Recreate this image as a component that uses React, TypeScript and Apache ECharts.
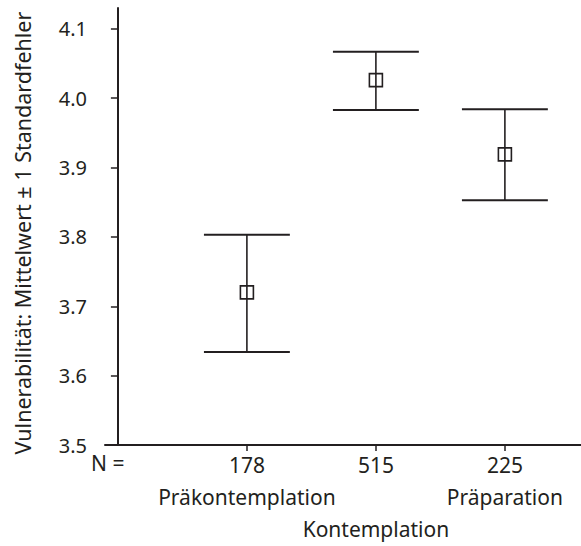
import React, { useEffect, useRef } from "react";
import * as echarts from "echarts";

const categories = ["Präkontemplation", "Kontemplation", "Präparation"];
const counts = [178, 515, 225];
const positions = [1, 2, 3];
const means = [3.72, 4.026, 3.919];
const lower = [3.634, 3.983, 3.853];
const upper = [3.803, 4.067, 3.984];
const yTicks = [3.5, 3.6, 3.7, 3.8, 3.9, 4.0, 4.1];
const nLabel = "N =";
const yTitle = "Vulnerabilität: Mittelwert ± 1 Standardfehler";

const INK = "#231f20";
const FONT = "Noto Sans";

export default function App() {
  const ref = useRef<HTMLDivElement>(null);
  useEffect(() => {
    if (!ref.current) return;
    const chart = echarts.init(ref.current, null, { renderer: "svg" });
    const data = positions.map((p, i) => [p, means[i], lower[i], upper[i]]);
    const baseX = {
      type: "value",
      position: "bottom",
      offset: 0,
      min: -0.1,
      max: 3.59,
      splitLine: { show: false },
    };
    const labelStyle = {
      color: INK,
      fontFamily: FONT,
      fontSize: 21,
      showMinLabel: true,
      showMaxLabel: true,
    };
    const idx = (v: number) => positions.indexOf(Math.round(v));
    chart.setOption({
      animation: false,
      backgroundColor: "#ffffff",
      grid: { left: 105, right: 0, top: 8, bottom: 101, containLabel: false, outerBoundsMode: "none" },
      xAxis: [
        {
          ...baseX,
          axisLine: { show: true, lineStyle: { color: INK, width: 2 } },
          axisTick: { show: true, length: 6, lineStyle: { color: INK, width: 1.5 }, customValues: positions },
          axisLabel: {
            ...labelStyle,
            customValues: positions,
            margin: 9,
            formatter: (v: number) => (idx(v) < 0 ? "" : String(counts[idx(v)])),
          },
        },
        {
          ...baseX,
          axisLine: { show: false },
          axisTick: { show: false },
          axisLabel: {
            ...labelStyle,
            customValues: [positions[0], positions[2]],
            margin: 41,
            formatter: (v: number) => (idx(v) < 0 ? "" : categories[idx(v)]),
          },
        },
        {
          ...baseX,
          axisLine: { show: false },
          axisTick: { show: false },
          axisLabel: {
            ...labelStyle,
            customValues: [positions[1]],
            margin: 73,
            formatter: (v: number) => (idx(v) < 0 ? "" : categories[idx(v)]),
          },
        },
      ],
      yAxis: {
        type: "value",
        min: 3.5,
        max: 4.13,
        interval: 0.1,
        splitLine: { show: false },
        axisLine: { show: true, lineStyle: { color: INK, width: 2 } },
        axisTick: { show: true, length: 7, lineStyle: { color: INK, width: 1.5 }, customValues: yTicks },
        axisLabel: {
          customValues: yTicks,
          margin: 18,
          color: INK,
          fontFamily: FONT,
          fontSize: 20,
          formatter: (v: number) => v.toFixed(1),
        },
      },
      graphic: [
        {
          type: "text",
          left: 91,
          top: 452,
          style: { text: nLabel, fill: INK, font: `21px "${FONT}"` },
        },
        {
          type: "text",
          x: 22,
          y: 233,
          rotation: Math.PI / 2,
          style: {
            text: yTitle,
            fill: INK,
            font: `21.5px "${FONT}"`,
            align: "center",
            verticalAlign: "middle",
          },
        },
      ],
      series: [
        {
          type: "custom",
          xAxisIndex: 0,
          data,
          renderItem: (params: any, api: any) => {
            const x = api.value(0);
            const m = api.coord([x, api.value(1)]);
            const lo = api.coord([x, api.value(2)]);
            const hi = api.coord([x, api.value(3)]);
            const half = api.size([0.333, 0])[0];
            const s = 6.5;
            return {
              type: "group",
              children: [
                {
                  type: "rect",
                  shape: { x: m[0] - s, y: m[1] - s, width: 2 * s, height: 2 * s },
                  style: { fill: "none", stroke: INK, lineWidth: 1.6 },
                },
                {
                  type: "line",
                  shape: { x1: lo[0], y1: lo[1], x2: hi[0], y2: hi[1] },
                  style: { stroke: INK, lineWidth: 1.6 },
                },
                {
                  type: "line",
                  shape: { x1: hi[0] - half, y1: hi[1], x2: hi[0] + half, y2: hi[1] },
                  style: { stroke: INK, lineWidth: 2 },
                },
                {
                  type: "line",
                  shape: { x1: lo[0] - half, y1: lo[1], x2: lo[0] + half, y2: lo[1] },
                  style: { stroke: INK, lineWidth: 2 },
                },
              ],
            };
          },
        },
      ],
    });
    return () => chart.dispose();
  }, []);
  return (
    <div
      ref={ref}
      style={{ position: "absolute", left: 0, top: 0, width: 581, height: 546, background: "#fff" }}
    />
  );
}
